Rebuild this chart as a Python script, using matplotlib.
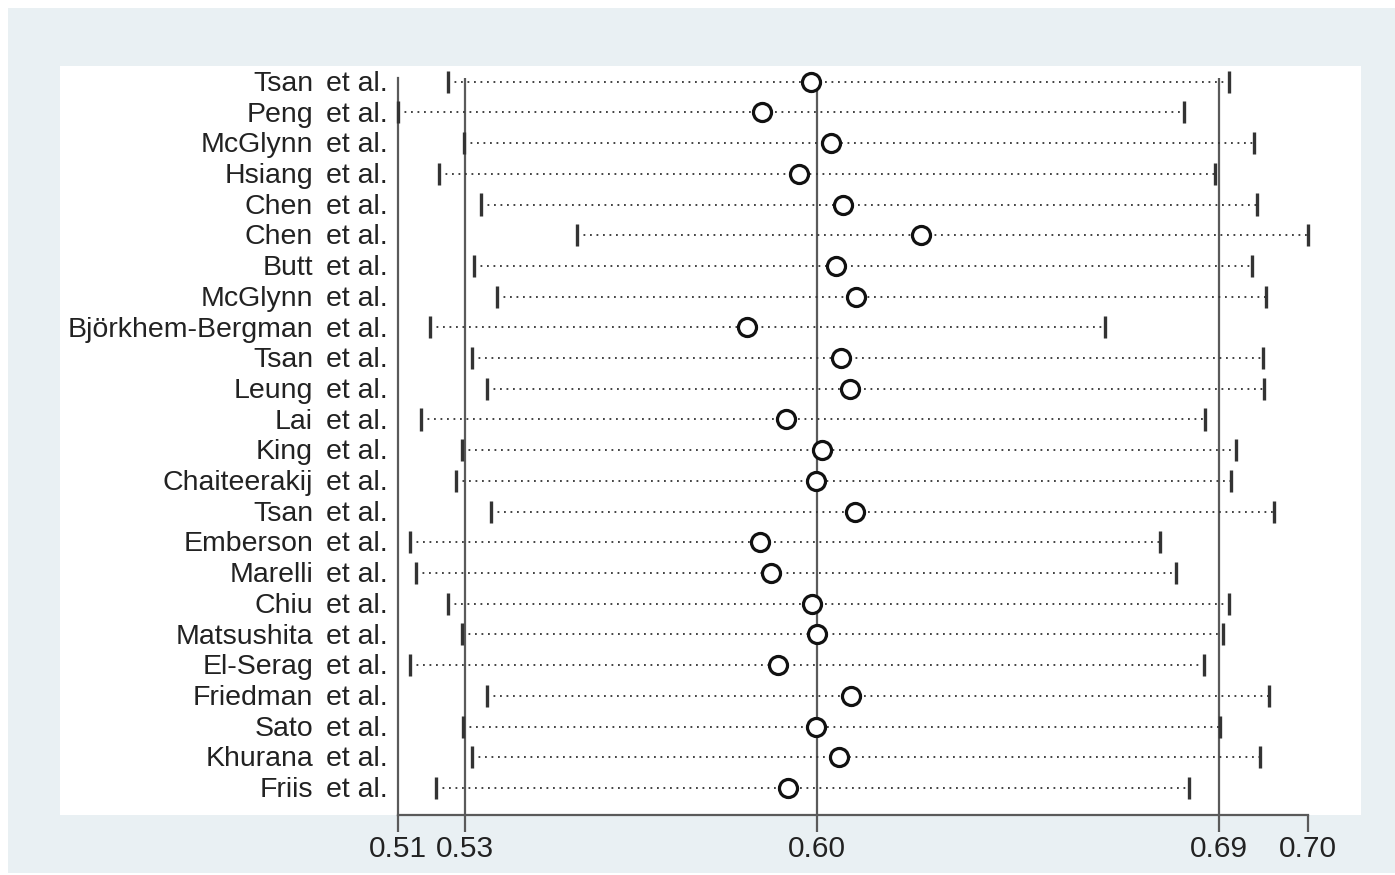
import matplotlib
matplotlib.use("Agg")
import matplotlib.pyplot as plt
import matplotlib.transforms as mtransforms
from matplotlib.patches import Rectangle

plt.rcParams['font.family'] = ['Liberation Sans', 'DejaVu Sans']

# studies, top to bottom
studies = ["Tsan", "Peng", "McGlynn", "Hsiang", "Chen", "Chen", "Butt", "McGlynn",
           "Björkhem-Bergman", "Tsan", "Leung", "Lai", "King", "Chaiteerakij", "Tsan",
           "Emberson", "Marelli", "Chiu", "Matsushita", "El-Serag", "Friedman", "Sato",
           "Khurana", "Friis"]

# estimate with the study omitted, and its 95% CI
estimate = [0.5962, 0.5861, 0.6004, 0.5937, 0.6030, 0.6192, 0.6014, 0.6056,
            0.5828, 0.6024, 0.6044, 0.5910, 0.5986, 0.5973, 0.6054, 0.5856,
            0.5878, 0.5964, 0.5975, 0.5894, 0.6046, 0.5973, 0.6021, 0.5914]
ci_low = [0.5204, 0.5101, 0.5237, 0.5185, 0.5274, 0.5474, 0.5259, 0.5306,
          0.5167, 0.5255, 0.5286, 0.5147, 0.5234, 0.5221, 0.5294, 0.5126,
          0.5138, 0.5205, 0.5234, 0.5126, 0.5286, 0.5236, 0.5255, 0.5179]
ci_high = [0.6836, 0.6741, 0.6887, 0.6806, 0.6893, 0.7001, 0.6884, 0.6912,
           0.6576, 0.6905, 0.6909, 0.6785, 0.6849, 0.6839, 0.6928, 0.6691,
           0.6725, 0.6836, 0.6822, 0.6782, 0.6918, 0.6817, 0.6899, 0.6751]

# overall estimate and CI (reference lines)
ref_lines = [0.5240, 0.5974, 0.6814]

tick_values = [0.51, 0.5240, 0.5974, 0.6814, 0.70]
tick_labels = ["0.51", "0.53", "0.60", "0.69", "0.70"]

W, H = 1395, 875
fig = plt.figure(figsize=(W / 100, H / 100), dpi=100)
fig.patch.set_facecolor("white")

# stata style background regions
fig.patches.append(Rectangle((8 / W, 2 / H), (W - 8) / W, 865 / H,
                             transform=fig.transFigure, facecolor="#E9F0F3",
                             edgecolor="none", zorder=-2))
fig.patches.append(Rectangle((60 / W, (H - 815) / H), 1301 / W, 749 / H,
                             transform=fig.transFigure, facecolor="white",
                             edgecolor="none", zorder=-1))

ax = fig.add_axes([398 / W, (H - 815) / H, 910 / W, 737 / H])
ax.set_facecolor("none")
ax.set_zorder(2)

n = len(studies)
ypos = list(range(n, 0, -1))

for v in ref_lines:
    ax.axvline(v, color="#5a5a5a", lw=1.6, zorder=1)

ax.hlines(ypos, ci_low, ci_high, colors="#333333", linestyles=(0, (1, 2.6)),
          lw=1.3, zorder=2)
ax.vlines(ci_low, [y - 0.36 for y in ypos], [y + 0.36 for y in ypos],
          colors="#333333", lw=2.4, zorder=3, clip_on=False)
ax.vlines(ci_high, [y - 0.36 for y in ypos], [y + 0.36 for y in ypos],
          colors="#333333", lw=2.4, zorder=3, clip_on=False)
ax.plot(estimate, ypos, linestyle="none", marker="o", markersize=13,
        markerfacecolor="white", markeredgecolor="#111111", markeredgewidth=2.3,
        zorder=4, clip_on=False)

ax.set_xlim(0.51, 0.70)
ax.set_ylim(0.12, 24.12)

for side in ["top", "right"]:
    ax.spines[side].set_visible(False)
for side in ["left", "bottom"]:
    ax.spines[side].set_color("#5a5a5a")
    ax.spines[side].set_linewidth(1.6)

ax.set_yticks([])
ax.set_xticks(tick_values)
ax.set_xticklabels(tick_labels, fontsize=21.5, color="#222222")
ax.tick_params(axis="x", direction="out", length=12.5, width=1.6,
               color="#5a5a5a", pad=2)

# study labels
trans = mtransforms.blended_transform_factory(fig.transFigure, ax.transData)
for name, y in zip(studies, ypos):
    ax.text(313 / W, y - 0.07, name, transform=trans, ha="right", va="center",
            fontsize=20.5, color="#222222")
    ax.text(388 / W, y - 0.07, "et al.", transform=trans, ha="right", va="center",
            fontsize=20.5, color="#222222")

fig.savefig("out.png", dpi=100, facecolor=fig.get_facecolor())
